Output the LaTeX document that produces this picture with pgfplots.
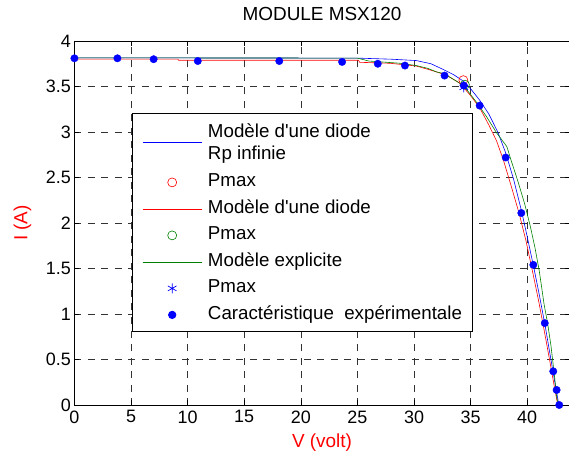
\documentclass[border=0pt]{standalone}
\usepackage{fontspec}
\setmainfont{Liberation Sans}[Ligatures=TeXOff]
\usepackage{pgfplots}
\pgfplotsset{compat=1.18}
\usetikzlibrary{plotmarks}
\definecolor{mgreen}{rgb}{0,0.5,0}
\pgfplotsset{
  legend image code/.code={\draw[mark repeat=2,mark phase=2,#1] plot coordinates {(0bp,0bp) (29.5bp,0bp) (59bp,0bp)};},
  shiftedlegend/.style={legend image code/.code={\draw[##1, blue, line width=0.7bp, overlay] (0bp,-13bp) -- (59bp,-13bp);}},
}
\begin{document}
\begin{tikzpicture}
\begin{axis}[
  x=11.32bp, y=91bp,
  xmin=0, xmax=43.75, ymin=0, ymax=4,
  axis line style={line width=0.8bp, black},
  xtick={0,5,10,15,20,25,30,35,40},
  ytick={0,0.5,1,1.5,2,2.5,3,3.5,4},
  tick align=inside, major tick length=5bp,
  tick style={black, line width=0.6bp},
  grid=major,
  major grid style={black!80, line width=0.5bp, dash pattern=on 7bp off 6.5bp},
  tick label style={font=\fontsize{18}{20}\selectfont, /pgf/number format/assume math mode=true},
  xticklabel style={yshift=-2bp},
  title={MODULE MSX120},
  title style={at={(axis description cs:0.5,1)}, anchor=base, yshift=14.5bp, font=\fontsize{19}{22}\selectfont},
  xlabel={V (volt)},
  xlabel style={at={(axis description cs:0.5,0)}, anchor=base, yshift=-42bp, text=red, font=\fontsize{19}{22}\selectfont},
  ylabel={I (A)},
  ylabel style={at={(axis description cs:-0.105,0.5)}, anchor=center, rotate=0, text=red, font=\fontsize{19}{22}\selectfont},
  legend style={at={(axis description cs:0.1163,0.8022)}, anchor=north west, draw=black, line width=0.8bp,
    inner xsep=10bp, inner ysep=7.5bp, row sep=9.5bp, column sep=6bp,
    font=\fontsize{18.8}{26}\selectfont,
    nodes={inner sep=0pt, text height=13bp, text depth=4bp}},
  legend cell align=left,
]
\addplot[blue, line width=0.6bp, shiftedlegend] coordinates {
(0,3.815) (25,3.812) (28,3.80) (30.2,3.785) (31.5,3.75) (32.7,3.68) (33.5,3.63)
(34.35,3.56) (35.1,3.46) (35.8,3.35) (36.6,3.2) (37.4,3.0) (38.1,2.77) (38.8,2.48)
(39.5,2.13) (40.0,1.85) (40.6,1.5) (41.1,1.19) (41.6,0.86) (42.0,0.57) (42.4,0.28) (42.8,0)
};
\addlegendentry{\raisebox{-4bp}{Modèle d'une diode}}
\addlegendimage{empty legend}
\addlegendentry{\raisebox{1bp}{Rp infinie}}
\addplot[only marks, mark=o, red, mark size=4.5bp, line width=0.6bp] coordinates {(34.36,3.57)};
\addlegendentry{Pmax}
\addplot[red, line width=0.6bp] coordinates {
(0,3.80) (9.15,3.80) (9.2,3.788) (25.1,3.788) (25.2,3.766) (27.9,3.755) (30.2,3.725)
(31.2,3.69) (32,3.66) (32.7,3.63) (33.2,3.60) (34.06,3.535) (35,3.40) (35.83,3.26)
(36.6,3.08) (37.3,2.9) (37.9,2.69) (38.6,2.40) (39.3,2.1) (39.9,1.8) (40.5,1.45)
(41.0,1.15) (41.5,0.82) (42.0,0.48) (42.4,0.2) (42.7,0)
};
\addlegendentry{Modèle d'une diode}
\addplot[only marks, mark=o, mgreen, mark size=4.5bp, line width=0.6bp] coordinates {(34.5,3.52)};
\addlegendentry{Pmax}
\addplot[mgreen, line width=0.6bp] coordinates {
(0,3.815) (25,3.812) (26,3.78) (28.8,3.755) (30.2,3.73) (31.2,3.70) (32,3.66) (32.7,3.64)
(33.2,3.6) (34.0,3.54) (34.57,3.48) (35.5,3.33) (36.4,3.17) (37.3,2.99) (38.2,2.84)
(38.6,2.68) (39.2,2.45) (39.8,2.2) (40.3,1.95) (40.7,1.72) (41.07,1.47) (41.5,1.1)
(41.8,0.9) (42.1,0.65) (42.4,0.33) (42.6,0.09) (42.75,0)
};
\addlegendentry{Modèle explicite}
\addplot[only marks, mark=asterisk, blue, mark size=5bp, line width=0.7bp] coordinates {(34.4,3.49)};
\addlegendentry{Pmax}
\addplot[only marks, mark=*, blue, mark size=3.7bp, mark options={draw=blue, fill=blue}] coordinates {
(0,3.81) (3.8,3.81) (7.0,3.80) (10.9,3.78) (18.1,3.78) (23.65,3.77) (26.8,3.75)
(29.2,3.73) (32.7,3.62) (34.4,3.51) (35.8,3.29) (38.1,2.72) (39.48,2.11) (40.54,1.54)
(41.55,0.90) (42.3,0.37) (42.6,0.165) (42.83,0)
};
\addlegendentry{Caractéristique\ \ expérimentale}
\end{axis}
\pgfresetboundingbox
\useasboundingbox (-74.4bp,-50bp) rectangle (494.6bp,405bp);
\end{tikzpicture}
\end{document}
